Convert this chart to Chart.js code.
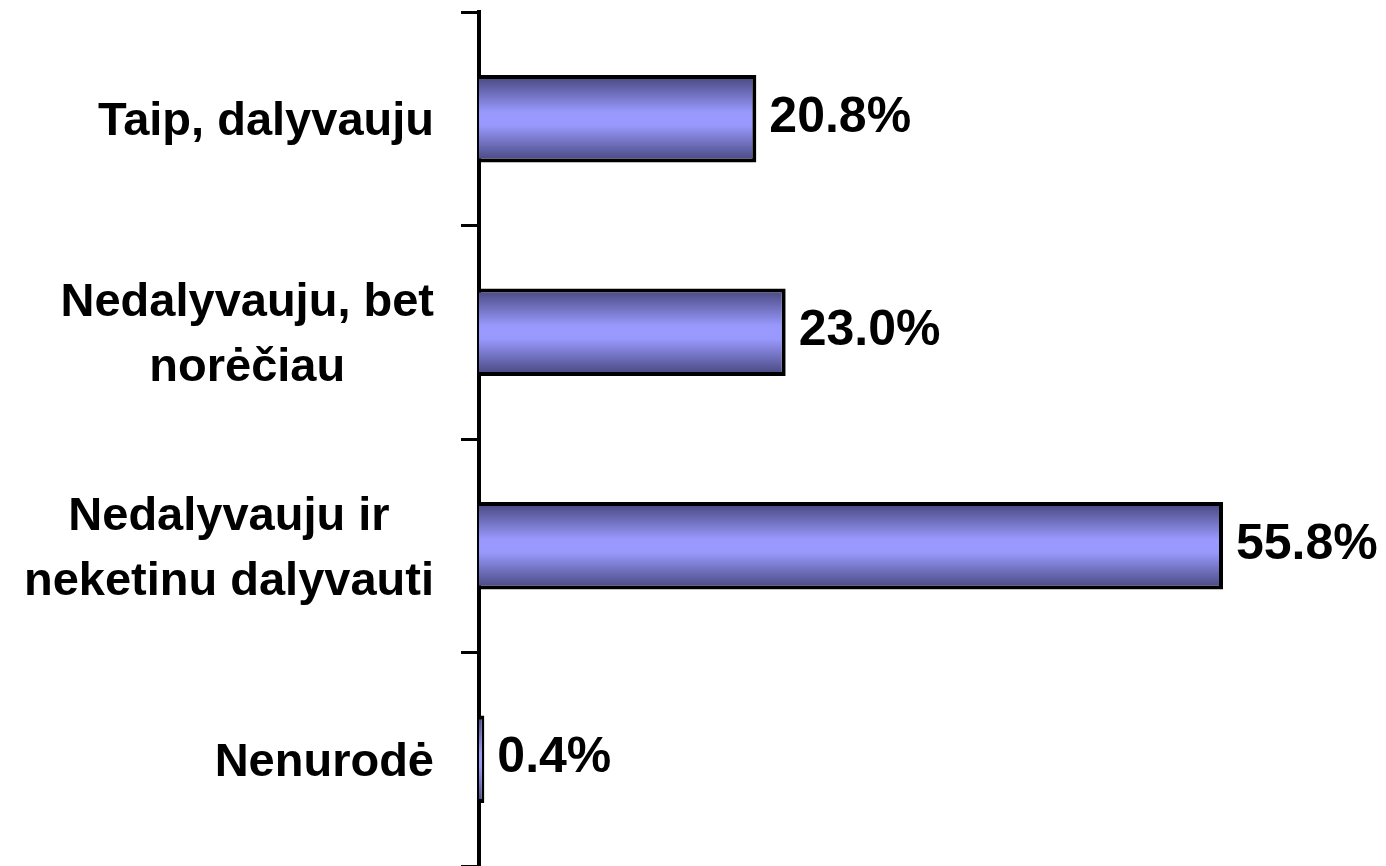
<!DOCTYPE html>
<html>
<head>
<meta charset="utf-8">
<script src="https://cdn.jsdelivr.net/npm/chart.js"></script>
<style>
  body { margin: 0; background: #fff; }
</style>
</head>
<body>
<canvas id="grafico" width="1386" height="866"></canvas>
<script>
// duomenys
const kategorijos = [
    ['Taip, dalyvauju'],
    ['Nedalyvauju, bet', 'norėčiau'],
    ['Nedalyvauju ir', 'neketinu dalyvauti'],
    ['Nenurodė']
];
const reiksmes = [20.8, 23.0, 55.8, 0.4];
const xMin = 0;
const xMax = 60;

const barPct = 0.41;
const fontas = '"Liberation Sans", Arial, sans-serif';

// gradientas kiekvienam stulpeliui (tamsu krastuose, sviesu viduryje)
function gradientas(c) {
    const chart = c.chart;
    const y = chart.scales.y;
    if (!y || !chart.chartArea || c.dataIndex === undefined) return '#9999ff';
    const centras = y.getPixelForValue(c.dataIndex);
    const puse = (chart.chartArea.height / kategorijos.length) * barPct / 2;
    const g = chart.ctx.createLinearGradient(0, centras - puse, 0, centras + puse);
    g.addColorStop(0, '#44447a');
    g.addColorStop(0.42, '#9898fc');
    g.addColorStop(0.5, '#9999ff');
    g.addColorStop(0.58, '#9898fc');
    g.addColorStop(1, '#44447a');
    return g;
}

// kategoriju ir reiksmiu uzrasai
const uzrasai = {
    id: 'uzrasai',
    afterDraw(chart) {
        const ctx = chart.ctx;
        const y = chart.scales.y;
        ctx.save();
        ctx.fillStyle = '#000';

        // kategorijos kaireje
        ctx.font = 'bold 47px ' + fontas;
        ctx.textAlign = 'center';
        ctx.textBaseline = 'alphabetic';
        const desine = 434;
        kategorijos.forEach((eil, i) => {
            const centras = y.getPixelForValue(i);
            let plotis = 0;
            eil.forEach(t => { plotis = Math.max(plotis, ctx.measureText(t).width); });
            const cx = desine - plotis / 2;
            eil.forEach((t, k) => {
                const by = centras + 16.5 + (k - (eil.length - 1) / 2) * 65;
                ctx.fillText(t, cx, by);
            });
        });

        // reiksmes prie stulpeliu
        ctx.font = 'bold 50px ' + fontas;
        ctx.textAlign = 'left';
        const meta = chart.getDatasetMeta(0);
        meta.data.forEach((el, i) => {
            ctx.fillText(reiksmes[i].toFixed(1) + '%', el.x + 13, el.y + 13);
        });
        ctx.restore();
    }
};

new Chart(document.getElementById('grafico'), {
    type: 'bar',
    data: {
        labels: kategorijos,
        datasets: [{
            data: reiksmes,
            backgroundColor: gradientas,
            borderColor: '#000',
            borderWidth: 4,
            barPercentage: barPct,
            categoryPercentage: 1
        }]
    },
    options: {
        indexAxis: 'y',
        responsive: false,
        animation: false,
        devicePixelRatio: 1,
        layout: { padding: { top: 12, right: 107, bottom: 0, left: 0 } },
        plugins: {
            legend: { display: false },
            tooltip: { enabled: false }
        },
        scales: {
            x: {
                display: false,
                min: xMin,
                max: xMax
            },
            y: {
                afterFit(scale) { scale.width = 479; },
                ticks: { display: false },
                grid: {
                    drawOnChartArea: false,
                    drawTicks: true,
                    tickLength: 18,
                    color: '#000',
                    lineWidth: 3,
                    offset: true
                },
                border: { display: true, color: '#000', width: 4 }
            }
        }
    },
    plugins: [uzrasai]
});
</script>
</body>
</html>
